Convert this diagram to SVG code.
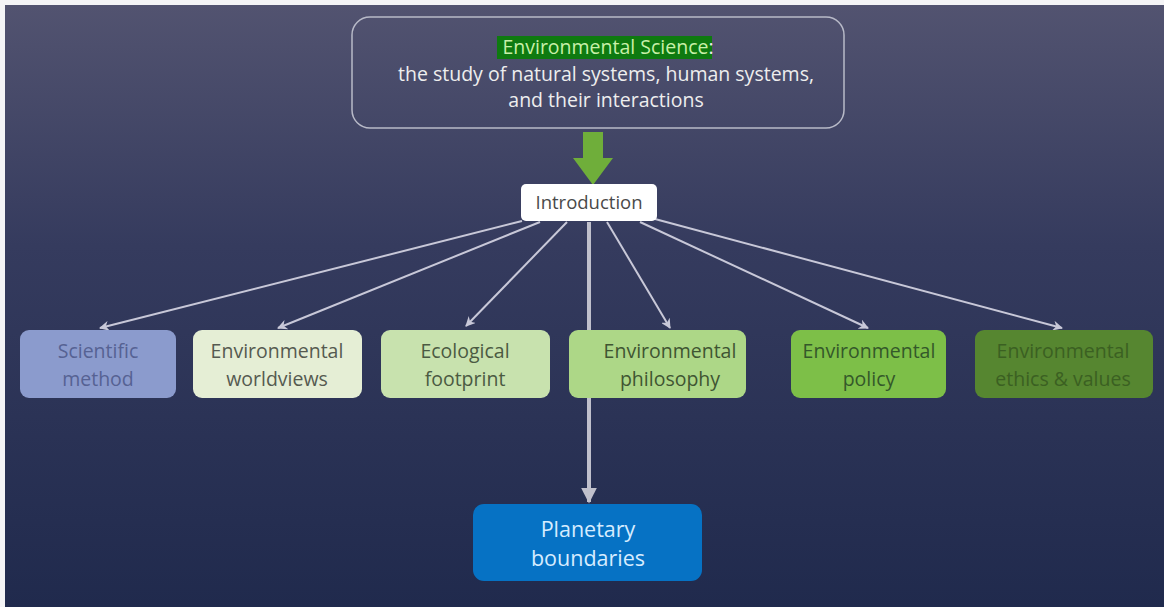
<svg xmlns="http://www.w3.org/2000/svg" width="1164" height="607" viewBox="0 0 1164 607">
<defs>
<linearGradient id="bg" x1="0" y1="0" x2="0" y2="1">
<stop offset="0" stop-color="#525370"/>
<stop offset="0.4" stop-color="#353b5e"/>
<stop offset="1" stop-color="#202a4d"/>
</linearGradient>
<marker id="ah" viewBox="0 0 10 10" refX="9" refY="5" markerWidth="5" markerHeight="5" orient="auto" markerUnits="strokeWidth">
<path d="M0,0 L10,5 L0,10 L3,5 z" fill="#c8c8d8"/>
</marker>
<marker id="ahv" viewBox="0 0 10 10" refX="9" refY="5" markerWidth="4" markerHeight="4" orient="auto" markerUnits="strokeWidth">
<path d="M0,0 L10,5 L0,10 z" fill="#c0c0cc"/>
</marker>
</defs>
<style>
text{font-family:"Open Sans","Noto Sans","Liberation Sans",sans-serif;text-anchor:middle;font-variant-ligatures:none}
.n{font-size:19.5px}
.c{stroke:#c8c8d8;stroke-width:2;fill:none;marker-end:url(#ah)}
</style>
<rect x="0" y="0" width="1164" height="607" fill="#f4f4f6"/>
<rect x="5" y="5" width="1159" height="602" fill="url(#bg)"/>

<g id="science">
<rect x="352" y="17" width="492" height="111" rx="18" fill="none" stroke="#b8bac8" stroke-width="1.5"/>
<rect x="497" y="36" width="215" height="23" fill="#0e7a10"/>
<text x="608" y="54" font-size="19.5"><tspan fill="#c8f0a8">Environmental Science</tspan><tspan fill="#eeeeee">:</tspan></text>
<text x="606" y="81" font-size="19.5" fill="#eeeeee">the study of natural systems, human systems,</text>
<text x="606" y="107" font-size="19.5" fill="#eeeeee">and their interactions</text>
</g>

<g id="green-arrow">
<path d="M583,132 H603 V158 H613 L593,185 L573,158 H583 Z" fill="#6fae3a"/>
</g>

<g id="connectors">
<line class="c" x1="522" y1="221" x2="100" y2="328"/>
<line class="c" x1="540" y1="222" x2="278" y2="328"/>
<line class="c" x1="567" y1="222" x2="466" y2="326"/>
<line class="c" x1="607" y1="222" x2="670" y2="328"/>
<line class="c" x1="640" y1="222" x2="868" y2="328"/>
<line class="c" x1="655" y1="219" x2="1062" y2="328"/>
<line x1="589" y1="222" x2="589" y2="502" stroke="#c0c0cc" stroke-width="4" marker-end="url(#ahv)"/>
</g>

<g id="introduction">
<rect x="521" y="184" width="136" height="37" rx="5" fill="#ffffff"/>
<text x="589" y="209" font-size="18.5" fill="#4a4a4a">Introduction</text>
</g>

<g id="scientific-method">
<rect x="20" y="330" width="156" height="68" rx="9" fill="#8b9bcd"/>
<text class="n" fill="#566293"><tspan x="98" y="358">Scientific</tspan><tspan x="98" y="386">method</tspan></text>
</g>
<g id="worldviews">
<rect x="193" y="330" width="169" height="68" rx="9" fill="#e5eed5"/>
<text class="n" fill="#555a50"><tspan x="277" y="358">Environmental</tspan><tspan x="277" y="386">worldviews</tspan></text>
</g>
<g id="footprint">
<rect x="381" y="330" width="169" height="68" rx="9" fill="#c8e2ae"/>
<text class="n" fill="#4b5a42"><tspan x="465" y="358">Ecological</tspan><tspan x="465" y="386">footprint</tspan></text>
</g>
<g id="philosophy">
<rect x="569" y="330" width="177" height="68" rx="9" fill="#add787"/>
<text class="n" fill="#3f5532"><tspan x="670" y="358">Environmental</tspan><tspan x="670" y="386">philosophy</tspan></text>
</g>
<g id="policy">
<rect x="791" y="330" width="155" height="68" rx="9" fill="#7dbf48"/>
<text class="n" fill="#34582a"><tspan x="869" y="358">Environmental</tspan><tspan x="869" y="386">policy</tspan></text>
</g>
<g id="ethics">
<rect x="975" y="330" width="178" height="68" rx="9" fill="#568630"/>
<text class="n" fill="#3b6022"><tspan x="1063" y="358">Environmental</tspan><tspan x="1063" y="386">ethics &amp; values</tspan></text>
</g>

<g id="planetary-boundaries">
<rect x="473" y="504" width="229" height="77" rx="11" fill="#0672c4"/>
<text font-size="21.5" fill="#d6ecff"><tspan x="588" y="537">Planetary</tspan><tspan x="588" y="566">boundaries</tspan></text>
</g>
</svg>
